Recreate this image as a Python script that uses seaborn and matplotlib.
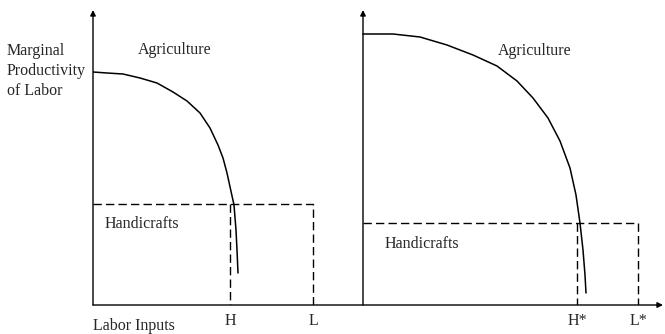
import matplotlib
matplotlib.use("Agg")
import matplotlib.pyplot as plt
import seaborn as sns
import pandas as pd

# ---- Data (labor units along x, productivity along y) ----
# left economy: agricultural marginal product curve
agri_left_x = [0.0, 1.4, 3.0, 4.7, 6.4, 8.0, 9.4, 10.7, 11.7, 12.5, 13.0, 13.4,
               13.75, 14.1, 14.3, 14.4, 14.5]
agri_left_y = [23.3, 23.2, 23.1, 22.7, 22.2, 21.3, 20.4, 19.2, 17.7, 16.0, 14.7, 13.2,
               11.6, 10.0, 7.5, 5.5, 3.2]
# right economy (second y-axis sits at x = 27)
origin_right = 27.0
agri_right_x = [27.0, 30.0, 32.7, 35.4, 38.0, 40.4, 42.4, 44.0, 45.5, 46.7, 47.7,
                48.3, 48.7, 49.0, 49.2, 49.3]
agri_right_y = [27.1, 27.1, 26.8, 26.0, 25.0, 23.9, 22.4, 20.7, 18.7, 16.4, 13.7,
                11.0, 8.2, 5.5, 3.0, 1.2]

# handicraft (flat) productivity and labor allocations
handi_left = 10.1
handi_right = 8.2
labor_ticks = [13.7, 22.0, 48.4, 54.5]
labor_labels = ["H", "L", "H*", "L*"]

x_max = 57.0
y_max = 29.5

sns.set_style("white")
plt.rcParams["font.family"] = ["Liberation Serif", "DejaVu Serif"]
plt.rcParams["font.size"] = 11.5

fig = plt.figure(figsize=(6.65, 3.34), dpi=100)
ax = fig.add_axes([93 / 665, 29 / 334, 570 / 665, 295 / 334])
ax.set_xlim(0, x_max)
ax.set_ylim(0, y_max)
for s in ax.spines.values():
    s.set_visible(False)

# ---- axes with arrowheads ----
arrow = dict(arrowstyle="-|>", lw=1.0, color="black", mutation_scale=8,
             shrinkA=0, shrinkB=0)
ax.annotate("", xy=(0, y_max), xytext=(0, 0), arrowprops=arrow, annotation_clip=False)
ax.annotate("", xy=(origin_right, y_max), xytext=(origin_right, 0), arrowprops=arrow,
            annotation_clip=False)
ax.annotate("", xy=(x_max, 0), xytext=(0, 0), arrowprops=arrow, annotation_clip=False)

# ---- agriculture curves ----
curves = pd.concat([
    pd.DataFrame({"x": agri_left_x, "y": agri_left_y, "panel": "left"}),
    pd.DataFrame({"x": agri_right_x, "y": agri_right_y, "panel": "right"}),
])
sns.lineplot(data=curves, x="x", y="y", units="panel", estimator=None, sort=False,
             color="black", lw=1.1, ax=ax)

# ---- handicraft dashed lines ----
H, L, H_star, L_star = labor_ticks
dash_lines = [
    ([0, L, L], [handi_left, handi_left, 0]),
    ([H, H], [handi_left, 0]),
    ([origin_right, L_star, L_star], [handi_right, handi_right, 0]),
    ([H_star, H_star], [handi_right, 0]),
]
for xs, ys in dash_lines:
    sns.lineplot(x=xs, y=ys, sort=False, estimator=None, color="black", lw=1.0,
                 dashes=False, ax=ax).lines[-1].set_dashes((6, 3))

# ---- labels ----
ax.set_xticks(labor_ticks)
ax.set_xticklabels(labor_labels)
ax.set_yticks([])
ax.tick_params(axis="x", length=0, pad=6)
ax.set_xlabel("")
ax.set_ylabel("")

ax.text(-8.6, 23.4, "Marginal\nProductivity\nof Labor", ha="left", va="center",
        linespacing=1.3)
ax.text(0, -2.1, "Labor Inputs", ha="left", va="center")
ax.text(8.2, 25.5, "Agriculture", ha="center", va="center")
ax.text(44.2, 25.4, "Agriculture", ha="center", va="center")
ax.text(1.2, 8.1, "Handicrafts", ha="left", va="center")
ax.text(2.2 + origin_right, 6.1, "Handicrafts", ha="left", va="center")

fig.savefig("out.png", dpi=100)
